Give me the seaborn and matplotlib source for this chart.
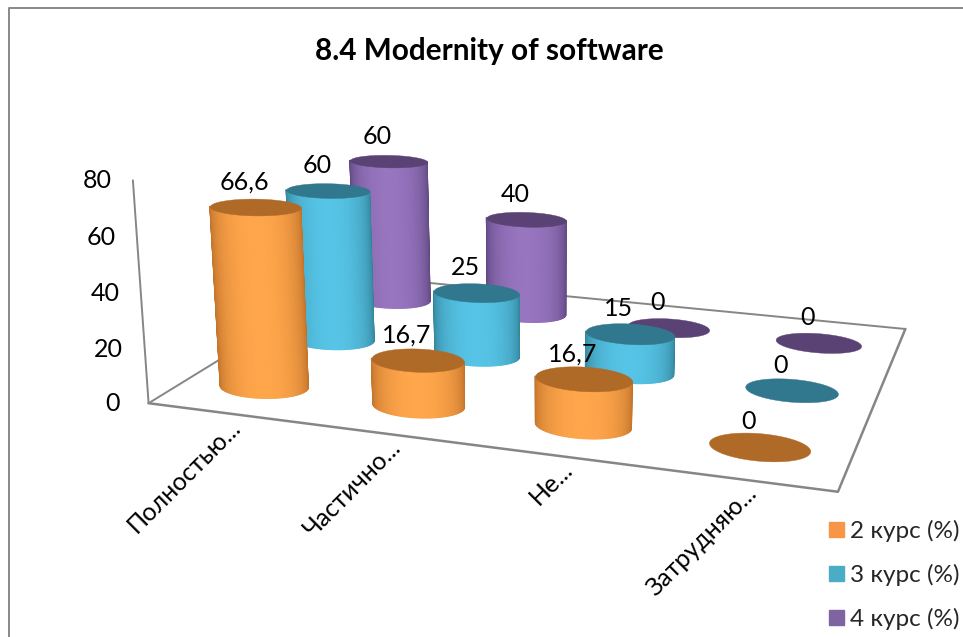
import numpy as np
import pandas as pd
import seaborn as sns
import matplotlib
matplotlib.use("Agg")
import matplotlib.pyplot as plt
from matplotlib.collections import PolyCollection
from matplotlib.lines import Line2D
from matplotlib.patches import Patch
from mpl_toolkits.mplot3d import proj3d

categories = ["Полностью...", "Частично...", "Не...", "Затрудняю..."]
series_names = ["2 курс (%)", "3 курс (%)", "4 курс (%)"]
kurs2 = [66.6, 16.7, 16.7, 0]
kurs3 = [60, 25, 15, 0]
kurs4 = [60, 40, 0, 0]
value_labels = [["66,6", "16,7", "16,7", "0"], ["60", "25", "15", "0"], ["60", "40", "0", "0"]]
value_ticks = [0, 20, 40, 60, 80]
legend_colors = ["#F79646", "#4BACC6", "#8064A2"]
mid_colors = ["#FFA64B", "#56C4E6", "#9775BF"]
edge_colors = ["#B96C25", "#2F7C92", "#59427A"]
cap_colors = ["#B06A28", "#31778D", "#5A4274"]
title_text = "8.4 Modernity of software"

sns.set_theme(style="white")
plt.rcParams["font.family"] = ["Lato", "Noto Sans", "DejaVu Sans"]

W, H = 963, 637
fig = plt.figure(figsize=(W / 100, H / 100), dpi=100, facecolor="white")
side = 818.0
cx0, cy0 = 552.0, 261.0
ELEV, AZIM = 15.56, -71.44
ax = fig.add_axes([(cx0 - 0.5135 * side) / W, (H - cy0 - 0.5135 * side) / H, side / W, side / H],
                  projection="3d", computed_zorder=False)
ax.set_proj_type("persp", focal_length=0.37)
ax.view_init(elev=ELEV, azim=AZIM)
box = (1.348, 0.95, 0.447)
ax.set_box_aspect(box, zoom=0.984)
ax.set_xlim(0, 4)
ax.set_ylim(0, 3)
ax.set_zlim(0, 80)
ax.set_axis_off()
ax.patch.set_alpha(0)

df = pd.DataFrame({"cat": np.tile(np.arange(4), 3),
                   "ser": np.repeat(np.arange(3), 4),
                   "val": kurs2 + kurs3 + kurs4})

line = "#868686"
ax.plot([0, 4, 4], [0, 0, 3], [0, 0, 0], color=line, lw=1.8, zorder=1, clip_on=False)
ax.plot([4, 0, 0], [3, 3, 0], [0, 0, 0], color=line, lw=1.4, zorder=1, clip_on=False)
ax.plot([0, 0], [0, 0], [0, 80], color=line, lw=1.4, zorder=1, clip_on=False)

az = np.deg2rad(AZIM)
view_dir = np.array([np.cos(az), np.sin(az)])
rx, ry = 0.275, 0.21
ux, uy = box[0] / 4, box[1] / 3
cam = np.array([box[0] / 2, box[1] / 2]) + 3.5 * np.cos(np.deg2rad(ELEV)) * view_dir


def blend(c1, c2, t):
    a, b = np.array(matplotlib.colors.to_rgb(c1)), np.array(matplotlib.colors.to_rgb(c2))
    return a + (b - a) * t


df["depth"] = (df.cat + 0.5) * ux * view_dir[0] + (df.ser + 0.5) * uy * view_dir[1]
df = df.sort_values("depth")
z = 10
full = np.linspace(0, 2 * np.pi, 121)
for row in df.itertuples():
    cx, cy = row.cat + 0.5, row.ser + 0.5
    s = int(row.ser)
    if row.val > 0:
        v = cam - np.array([cx * ux, cy * uy])
        centre = np.arctan2(v[1] / (ry * uy), v[0] / (rx * ux))
        front = centre + np.linspace(-np.pi / 2, np.pi / 2, 61)
        xs, ys = cx + rx * np.cos(front), cy + ry * np.sin(front)
        X = np.vstack([xs, xs])
        Y = np.vstack([ys, ys])
        Z = np.vstack([np.zeros_like(xs), np.full_like(xs, row.val)])
        mids = (front[:-1] + front[1:]) / 2
        t = np.clip(np.cos(mids - centre), 0, 1)
        fc = np.array([[*blend(edge_colors[s], mid_colors[s], ti), 1.0] for ti in t])[None, :, :]
        ax.plot_surface(X, Y, Z, facecolors=fc, shade=False, rstride=1, cstride=1, linewidth=0.8, zorder=z)
        z += 1
    ax.add_collection3d(PolyCollection(
        [np.column_stack([cx + rx * np.cos(full), cy + ry * np.sin(full)])],
        facecolors=cap_colors[s], edgecolors=cap_colors[s], linewidths=0.3, zorder=z),
        zs=row.val, zdir="z")
    z += 1

M = ax.get_proj()


def note(x, y, zz, s, dx, dy, **kw):
    u, v, _ = proj3d.proj_transform(x, y, zz, M)
    return ax.annotate(s, xy=(u, v), xytext=(dx, dy), textcoords="offset pixels", annotation_clip=False,
                       color="black", zorder=500, **kw)


for s, vals in enumerate([kurs2, kurs3, kurs4]):
    for c, v in enumerate(vals):
        note(c + 0.5, s + 0.5, v, value_labels[s][c], -11, 25, ha="center", va="center", fontsize=18)

for tick in value_ticks:
    note(0, 0, tick, str(tick), -36, 0, ha="center", va="center", fontsize=18)

for c, name in enumerate(categories):
    note(c + 0.5, 0, 0, name, 4, -2, ha="right", va="top", rotation=45, rotation_mode="anchor", fontsize=18)

fig.text(489 / W, 1 - 51 / H, title_text, ha="center", va="center", fontsize=21.4, fontweight="bold", color="black")

fig.add_artist(Line2D([9 / W, 9 / W, 1], [0, 1 - 8 / H, 1 - 8 / H], color="#888888", lw=1.4))

handles = [Patch(facecolor=c, edgecolor=c) for c in legend_colors]
fig.legend(handles, series_names, loc="center left", bbox_to_anchor=(829 / W, 1 - 575 / H), frameon=False,
           fontsize=17.5, handlelength=0.6, handleheight=0.6, handletextpad=0.28, labelspacing=0.9, borderpad=0,
           borderaxespad=0)

fig.savefig("out.png", dpi=100)
